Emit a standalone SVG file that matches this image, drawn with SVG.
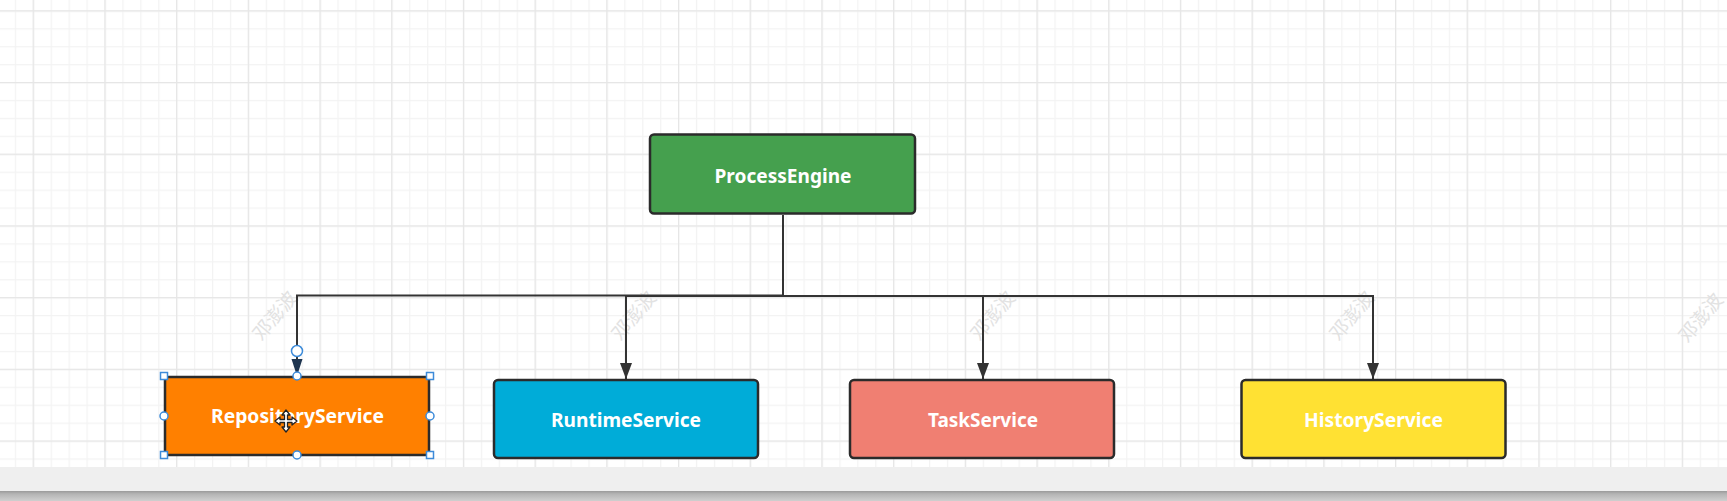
<svg xmlns="http://www.w3.org/2000/svg" width="1727" height="501" viewBox="0 0 1727 501">
  <style>
    .box { stroke: #2b2b2b; stroke-width: 2.5; }
    .label { font-family: "Noto Sans", "Open Sans", sans-serif; font-weight: bold; font-size: 20px; fill: #ffffff; text-anchor: middle; }
    .edge { fill: none; stroke: #333333; stroke-width: 2; }
    .wm { font-family: "Noto Sans CJK SC", sans-serif; font-size: 19px; fill: #e2e2e2; text-anchor: middle; }
    .hsq { fill: #ffffff; stroke: #3d8bd9; stroke-width: 1.5; }
    .hci { fill: #ffffff; stroke: #3d8bd9; stroke-width: 1.5; }
  </style>
  <defs>
    <pattern id="minor" x="14.8" y="10.3" width="17.925" height="17.925" patternUnits="userSpaceOnUse">
      <path d="M0 0.5 H17.925 M0.5 0 V17.925" stroke="#f3f3f3" stroke-width="1.5" fill="none"/>
    </pattern>
    <pattern id="major" x="32.7" y="10.3" width="71.7" height="71.7" patternUnits="userSpaceOnUse">
      <path d="M0 0.5 H71.7 M0.5 0 V71.7" stroke="#e6e6e6" stroke-width="1.5" fill="none"/>
    </pattern>
    <marker id="arrow" markerUnits="userSpaceOnUse" markerWidth="16" markerHeight="12" viewBox="0 0 16 12" refX="16" refY="6" orient="auto">
      <path d="M0 0 L16 6 L0 12 Z" fill="#333333"/>
    </marker>
    <linearGradient id="bar" x1="0" y1="0" x2="0" y2="1">
      <stop offset="0" stop-color="#9a9a9a"/>
      <stop offset="0.3" stop-color="#b4b4b4"/>
      <stop offset="1" stop-color="#cfcfcf"/>
    </linearGradient>
  </defs>

  <rect x="0" y="0" width="1727" height="501" fill="#ffffff"/>
  <rect x="0" y="0" width="1727" height="467" fill="url(#minor)"/>
  <rect x="0" y="0" width="1727" height="467" fill="url(#major)"/>
  <rect x="0" y="467" width="1727" height="25" fill="#efefef"/>
  <rect x="0" y="491" width="1727" height="10" fill="url(#bar)"/>

  <g id="watermarks">
    <text class="wm" transform="translate(280 320) rotate(-50)">邓澎波</text>
    <text class="wm" transform="translate(639 320) rotate(-50)">邓澎波</text>
    <text class="wm" transform="translate(998 320) rotate(-50)">邓澎波</text>
    <text class="wm" transform="translate(1357 320) rotate(-50)">邓澎波</text>
    <text class="wm" transform="translate(1706 322) rotate(-50)">邓澎波</text>
  </g>

  <g id="connectors">
    <path class="edge" d="M783 215 V296"/>
    <path class="edge" d="M783 295.5 H297 V360"/>
    <path class="edge" d="M783 296 H626 V379" marker-end="url(#arrow)"/>
    <path class="edge" d="M783 296 H983 V379" marker-end="url(#arrow)"/>
    <path class="edge" d="M783 296 H1373 V379" marker-end="url(#arrow)"/>
    <path d="M291.5 359 L302.5 359 L297 376 Z" fill="#1e3550"/>
  </g>

  <g id="ProcessEngine">
    <rect class="box" x="650" y="134.5" width="265" height="79" rx="4" fill="#45a04e"/>
    <text class="label" x="783" y="182.5" textLength="137" lengthAdjust="spacingAndGlyphs">ProcessEngine</text>
  </g>

  <g id="RepositoryService">
    <rect class="box" x="165" y="377" width="264" height="78" rx="1" fill="#ff8000"/>
    <text class="label" x="297.5" y="423.3" textLength="173" lengthAdjust="spacingAndGlyphs">RepositoryService</text>
  </g>

  <g id="RuntimeService">
    <rect class="box" x="494" y="380" width="264" height="78" rx="4" fill="#00acd8"/>
    <text class="label" x="626" y="426.7" textLength="150" lengthAdjust="spacingAndGlyphs">RuntimeService</text>
  </g>

  <g id="TaskService">
    <rect class="box" x="850" y="380" width="264" height="78" rx="4" fill="#f07f72"/>
    <text class="label" x="983" y="426.7" textLength="110" lengthAdjust="spacingAndGlyphs">TaskService</text>
  </g>

  <g id="HistoryService">
    <rect class="box" x="1241.5" y="380" width="264" height="78" rx="4" fill="#ffe133"/>
    <text class="label" x="1373.5" y="426.7" textLength="139" lengthAdjust="spacingAndGlyphs">HistoryService</text>
  </g>

  <g id="selection">
    <circle class="hci" cx="297" cy="351" r="5.5"/>
    <rect class="hsq" x="160.5" y="372.5" width="7" height="7"/>
    <rect class="hsq" x="426.5" y="372.5" width="7" height="7"/>
    <rect class="hsq" x="160.5" y="451.5" width="7" height="7"/>
    <rect class="hsq" x="426.5" y="451.5" width="7" height="7"/>
    <circle class="hci" cx="297" cy="376" r="4"/>
    <circle class="hci" cx="297" cy="455" r="4"/>
    <circle class="hci" cx="164" cy="416" r="4"/>
    <circle class="hci" cx="430" cy="416" r="4"/>
  </g>

  <g id="cursor" transform="translate(286 421)">
    <path d="M0 -11 L4 -6 L1.5 -6 L1.5 -1.5 L6 -1.5 L6 -4 L11 0 L6 4 L6 1.5 L1.5 1.5 L1.5 6 L4 6 L0 11 L-4 6 L-1.5 6 L-1.5 1.5 L-6 1.5 L-6 4 L-11 0 L-6 -4 L-6 -1.5 L-1.5 -1.5 L-1.5 -6 L-4 -6 Z" fill="#ffffff" stroke="#222222" stroke-width="1.3" stroke-linejoin="round"/>
  </g>
</svg>
